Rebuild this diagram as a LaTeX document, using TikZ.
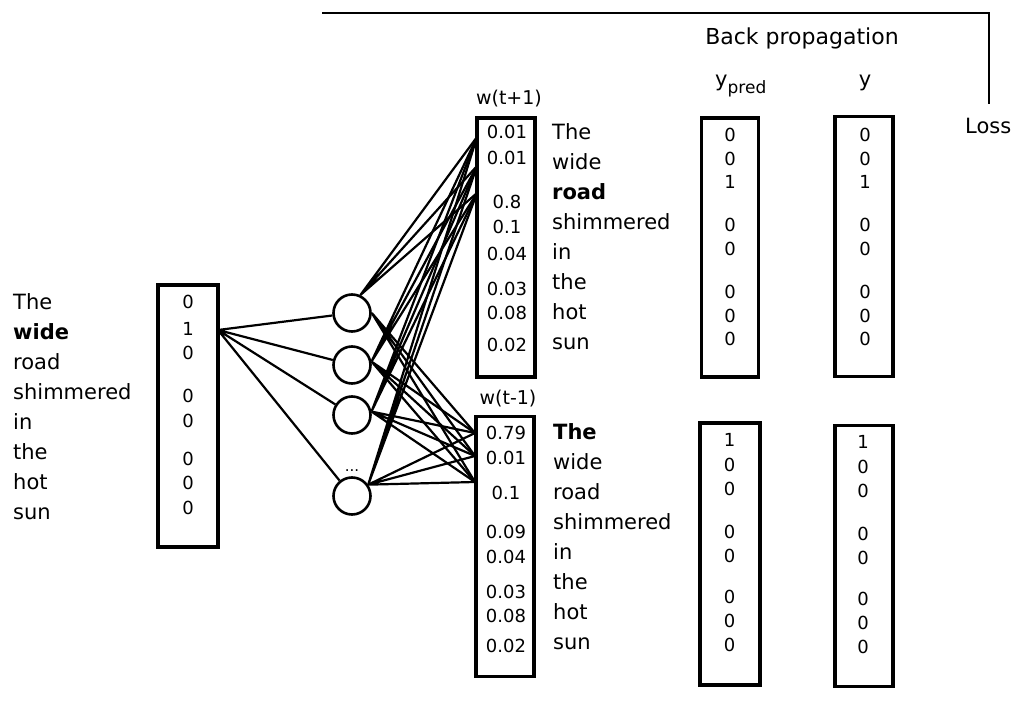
\documentclass[tikz,border=0pt]{standalone}
\usepackage{fontspec}
\setmainfont{DejaVu Sans}
\usetikzlibrary{shapes}
\tikzstyle{vecbox} = [rectangle, draw, line width=3.2pt,
    minimum width=58pt, minimum height=259pt, inner sep=0pt]
\tikzstyle{unit} = [circle, draw, line width=2.6pt, minimum size=37pt, inner sep=0pt]
\tikzstyle{line} = [draw, line width=2.2pt]
\tikzstyle{words} = [anchor=north west, align=left, inner sep=0pt,
    font=\fontsize{21}{30}\selectfont]
\tikzstyle{nums} = [anchor=north, align=center, inner sep=0pt,
    font=\fontsize{18}{24}\selectfont]
\tikzstyle{lab} = [anchor=base, inner sep=0pt, font=\fontsize{19}{19}\selectfont]

\begin{document}
\begin{tikzpicture}[x=1pt, y=-1pt]
   \useasboundingbox (0,0) rectangle (1018,709);

   % input word, one-hot
   \node [words] (inwords) at (13,293)
      {The\\ \textbf{wide}\\ road\\ shimmered\\ in\\ the\\ hot\\ sun};
   \node [vecbox, minimum width=60pt, minimum height=262pt] (inbox) at (188,416) {};
   \node [nums] (invals) at (188,295)
      {0\\[2.5pt] 1\\ 0\\[19pt] 0\\[1pt] 0\\[14pt] 0\\ 0\\[1pt] 0};
   \coordinate (inport) at (218,330);

   % hidden layer
   \node [unit] (h1) at (352,313) {};
   \node [unit] (h2) at (352,365) {};
   \node [unit] (h3) at (352,415) {};
   \node [unit] (h4) at (352,496) {};
   \node [lab, font=\fontsize{15}{15}\selectfont] (dots) at (352,471) {...};

   % context word w(t+1)
   \node [lab] (wnext) at (509,104) {w(t+1)};
   \node [vecbox] (nextbox) at (506,247.5) {};
   \node [nums] (nextvals) at (507,125)
      {0.01\\[1.6pt] 0.01\\[20.4pt] 0.8\\[1pt] 0.1\\[3.3pt] 0.04\\[11pt] 0.03\\ 0.08\\[8pt] 0.02};
   \node [words] (nextwords) at (552,123)
      {The\\ wide\\ \textbf{road}\\ shimmered\\ in\\ the\\ hot\\ sun};
   \coordinate (nx1) at (477,137);
   \coordinate (nx2) at (477,166);
   \coordinate (nx3) at (477,193);

   % context word w(t-1)
   \node [lab] (wprev) at (508,404) {w(t-1)};
   \node [vecbox, minimum height=260pt] (prevbox) at (505,546.7) {};
   \node [nums] (prevvals) at (506,426.4)
      {0.79\\[1pt] 0.01\\[11pt] 0.1\\[15pt] 0.09\\[1pt] 0.04\\[11pt] 0.03\\ 0.08\\[6pt] 0.02};
   \node [words] (prevwords) at (553,423.6)
      {\textbf{The}\\ wide\\ road\\ shimmered\\ in\\ the\\ hot\\ sun};
   \coordinate (pv1) at (475,433);
   \coordinate (pv2) at (475,456);
   \coordinate (pv3) at (475,482);

   % predicted and true vectors
   \node [lab, font=\fontsize{22}{22}\selectfont] (backprop) at (802,45) {Back propagation};
   \node [lab, anchor=base west, font=\fontsize{21}{21}\selectfont] (ypredlab) at (715,87)
      {y\raisebox{-6pt}{\fontsize{17}{17}\selectfont pred}};
   \node [lab, font=\fontsize{21}{21}\selectfont] (ylab) at (865,86) {y};
   \node [lab, anchor=base west, font=\fontsize{21}{21}\selectfont] (loss) at (965,133) {Loss};

   \node [vecbox, minimum width=57pt] (predup) at (730,247.5) {};
   \node [nums, font=\fontsize{18}{23.3}\selectfont] (predupvals) at (730,128.4)
      {0\\ 0\\ 1\\[20pt] 0\\ 0\\[20.4pt] 0\\ 0\\ 0};
   \node [vecbox, minimum height=260pt] (trueup) at (864,246.7) {};
   \node [nums, font=\fontsize{18}{23.3}\selectfont] (trueupvals) at (865,128.4)
      {0\\ 0\\ 1\\[20pt] 0\\ 0\\[20.4pt] 0\\ 0\\ 0};

   \node [vecbox, minimum width=60pt, minimum height=262pt] (preddown) at (730,554) {};
   \node [nums, font=\fontsize{18}{24.5}\selectfont] (preddownvals) at (729.5,433.4)
      {1\\ 0\\ 0\\[18.5pt] 0\\[-0.8pt] 0\\[16.8pt] 0\\[-0.8pt] 0\\ 0};
   \node [vecbox, minimum height=261pt] (truedown) at (864,556.3) {};
   \node [nums, font=\fontsize{18}{24.5}\selectfont] (truedownvals) at (863,435.4)
      {1\\ 0\\ 0\\[18.5pt] 0\\[-0.8pt] 0\\[16.8pt] 0\\[-0.8pt] 0\\ 0};

   % loss bracket
   \coordinate (bpstart) at (322,13);
   \coordinate (bpcorner) at (989,13);
   \coordinate (bpend) at (989,104);
   \path [line, line width=2.8pt] (bpstart) -- (bpcorner) -- (bpend);

   % connections
   \path [line] (inport) -- (h1) (inport) -- (h2) (inport) -- (h3) (inport) -- (h4);
   \path [line] (h1.65) -- (nx1) (h1.65) -- (nx2) (h1.65) -- (nx3);
   \path [line] (h1.east) -- (pv1) (h1.east) -- (pv2) (h1.east) -- (pv3);
   \path [line] (h2.10) -- (nx1) (h2.10) -- (nx2) (h2.10) -- (nx3);
   \path [line] (h2.10) -- (pv1) (h2.10) -- (pv2) (h2.10) -- (pv3);
   \path [line] (h3.10) -- (nx1) (h3.10) -- (nx2) (h3.10) -- (nx3);
   \path [line] (h3.10) -- (pv1) (h3.10) -- (pv2) (h3.10) -- (pv3);
   \path [line] (h4.35) -- (nx1) (h4.35) -- (nx2) (h4.35) -- (nx3);
   \path [line] (h4.35) -- (pv1) (h4.35) -- (pv2) (h4.35) -- (pv3);
\end{tikzpicture}
\end{document}
